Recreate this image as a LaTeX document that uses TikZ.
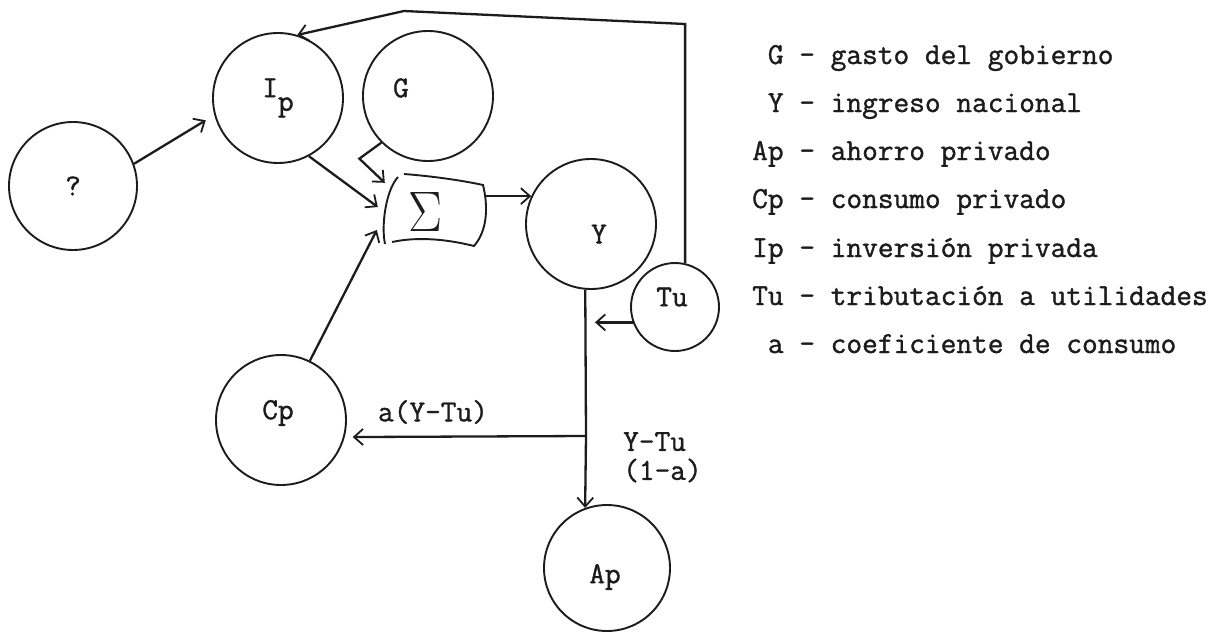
\documentclass[tikz,border=0pt]{standalone}
\usepackage{fontspec}
\usepackage{graphicx}
\newfontfamily\tw{Latin Modern Mono}[FakeBold=1.2]
\usetikzlibrary{arrows.meta,calc}
\definecolor{ink}{RGB}{28,28,28}
\begin{document}
\begin{tikzpicture}[x=1pt,y=-1pt,
  every node/.style={font=\fontsize{30.5}{29}\selectfont\tw, text=ink},
  circ/.style={draw=ink, circle, line width=1.9pt, inner sep=0pt, minimum size=130pt},
  conn/.style={draw=ink, line width=2.3pt},
  arr/.style={conn, -{Straight Barb[length=9pt,width=16pt,line width=1.8pt]}},
  txt/.style={inner sep=0pt},
  leg/.style={inner sep=0pt, anchor=base west},
]
\fill[white] (0,0) rectangle (1224,635);
\useasboundingbox (0,0) rectangle (1224,635);

% circles
\node[circ, minimum size=128pt] (q) at (73,186) {?};
\node[circ] (ip) at (278,98) {I\raisebox{-0.45em}{p}};
\node[circ, label={[txt,xshift=-27pt,yshift=8pt]center:G}] (g) at (428,96) {};
\node[circ, label={[txt,xshift=8pt,yshift=-10pt]center:Y}] (y) at (591,224) {};
\node[circ, minimum size=88pt, label={[txt,xshift=-3pt,yshift=10pt]center:Tu}] (tu) at (675,307) {};
\node[circ, label={[txt,xshift=-3pt,yshift=7pt]center:Cp}] (cp) at (281,420) {};
\node[circ, minimum size=126pt, label={[txt,xshift=-2pt,yshift=-9pt]center:Ap}] (ap) at (607,568) {};

% summing box
\node[minimum width=102pt, minimum height=70pt, inner sep=0pt,
  label={[txt,xshift=-9pt,yshift=-2pt]center:\resizebox{34pt}{39pt}{$\Sigma$}}] (sum) at (434,210) {};
\draw[conn, line width=1.9pt] (398,177) .. controls (386,190) and (381,225) .. (385,244);
\draw[conn, line width=1.9pt] (404,174) .. controls (430,176) and (460,180) .. (483,185)
  .. controls (488,205) and (488,230) .. (474,246)
  .. controls (450,240) and (420,236) .. (392,242);

% connectors
\draw[arr, shorten >=10pt] (q.20) -- (ip.195);
\draw[arr] (ip.-62) -- ($(sum.west)+(-5,-3)$);
\draw[arr] (g.225) -- ++(-22,16) -- ($(sum.north west)+(2,8)$);
\draw[arr] (cp.64) -- ($(sum.west)+(-6,20)$);
\draw[arr] (sum.east |- y.155) -- (y.155);
\coordinate (j) at (586,436);
\draw[conn] (y.265) -- (j);
\draw[arr] (j) -- (ap.110);
\draw[arr, shorten >=8pt] (j) -- (cp.-15);
\draw[arr, shorten >=9pt] (tu.200) -- (tu.200 -| j);
\coordinate (c2) at (404,11);
\draw[arr] (tu.77) -- (tu.77 |- 0,24) -- (c2) -- (ip.73);

% flow labels
\node[txt] (lcp) at (433,412) {a(Y-Tu)};
\node[txt, anchor=north west, align=left] (lap) at (623,432) {Y-Tu\\(1-a)};

% legend
\node[leg] (l1) at (752,64)  {\phantom{A}G - gasto del gobierno};
\node[leg] (l2) at (752,112) {\phantom{A}Y - ingreso nacional};
\node[leg] (l3) at (752,160) {Ap - ahorro privado};
\node[leg] (l4) at (752,208) {Cp - consumo privado};
\node[leg] (l5) at (752,257) {Ip - inversión privada};
\node[leg] (l6) at (752,305) {Tu - tributación a utilidades};
\node[leg] (l7) at (752,353) {\phantom{A}a - coeficiente de consumo};
\end{tikzpicture}
\end{document}
